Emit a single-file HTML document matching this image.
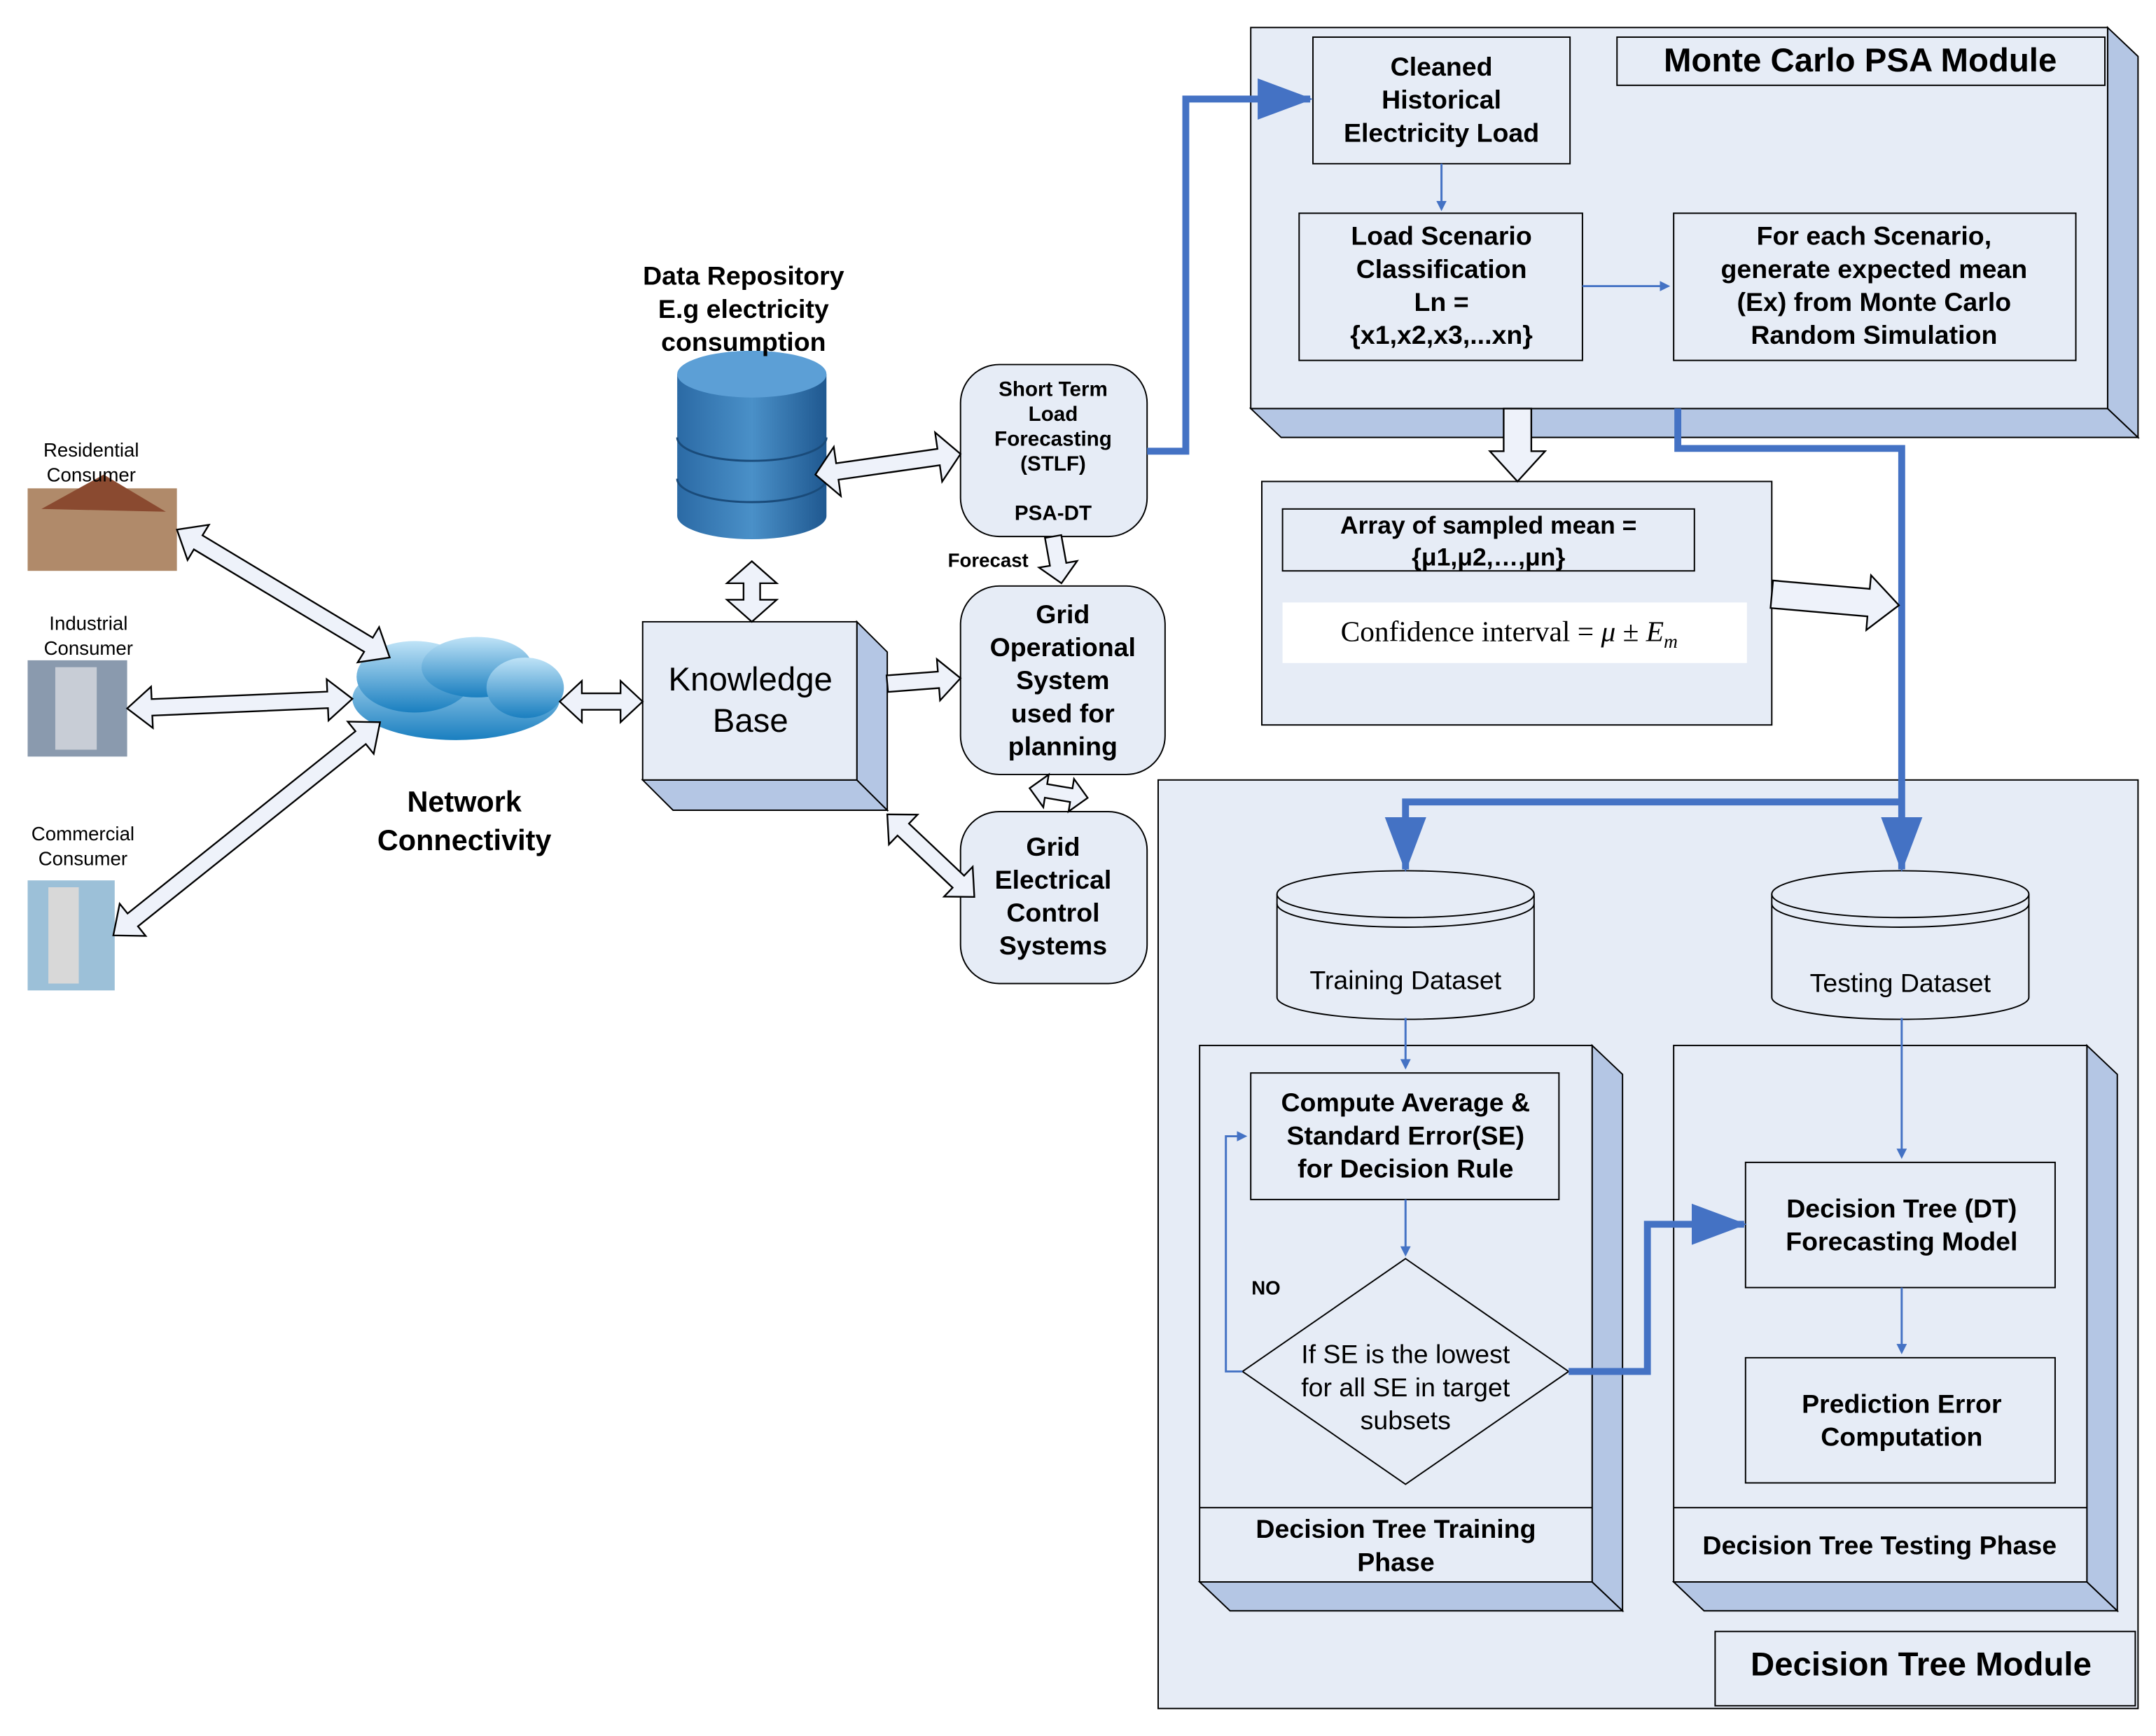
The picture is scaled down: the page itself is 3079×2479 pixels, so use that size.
<!DOCTYPE html>
<html><head><meta charset="utf-8">
<style>
html,body{margin:0;padding:0;background:#fff;}
svg{display:block;}
</style></head>
<body>
<svg id="s" width="3079" height="2479" viewBox="0 0 1560 1262" preserveAspectRatio="none" xmlns="http://www.w3.org/2000/svg" font-family="Liberation Sans, sans-serif">
<defs>
<marker id="ab" markerWidth="40" markerHeight="30" refX="38" refY="15" orient="auto" markerUnits="userSpaceOnUse"><path d="M0,0 L40,15 L0,30 z" fill="#4472c4"/></marker>
<marker id="at" markerWidth="5" markerHeight="5" refX="4" refY="2.5" orient="auto" markerUnits="strokeWidth"><path d="M0,0 L5,2.5 L0,5 z" fill="#4472c4"/></marker>
<linearGradient id="cl" x1="0" y1="0" x2="0" y2="1"><stop offset="0" stop-color="#bfe3f7"/><stop offset="1" stop-color="#1a7fc0"/></linearGradient>
<linearGradient id="db" x1="0" y1="0" x2="1" y2="0"><stop offset="0" stop-color="#2b6aa5"/><stop offset=".5" stop-color="#4a90c8"/><stop offset="1" stop-color="#1f5890"/></linearGradient>
</defs>
<g fill="none" stroke="#000" stroke-width="1">
<polygon points="905,297 1525,297 1547,318 927,318" fill="#b4c6e4"/>
<polygon points="1525,20 1547,41 1547,318 1525,297" fill="#b4c6e4"/>
<rect x="905" y="20" width="620" height="277" fill="#e6ecf6"/>
<rect x="1170" y="27" width="353" height="35" fill="#e6ecf6"/>
<rect x="950" y="27" width="186" height="92" fill="#e6ecf6"/>
<rect x="940" y="155" width="205" height="107" fill="#e6ecf6"/>
<rect x="1211" y="155" width="291" height="107" fill="#e6ecf6"/>
<rect x="913" y="350" width="369" height="177" fill="#e6ecf6"/>
<rect x="928" y="370" width="298" height="45" fill="#e6ecf6"/>
<rect x="928" y="438" width="336" height="44" fill="#fff" stroke="none"/>
<rect x="838" y="567" width="709" height="675" fill="#e6ecf6"/>
<rect x="1241" y="1186" width="304" height="54" fill="#e6ecf6"/>
<polygon points="868,1150 1152,1150 1174,1171 890,1171" fill="#b4c6e4"/>
<polygon points="1152,760 1174,781 1174,1171 1152,1150" fill="#b4c6e4"/>
<rect x="868" y="760" width="284" height="390" fill="#e6ecf6"/>
<line x1="868" y1="1096" x2="1152" y2="1096"/>
<polygon points="1211,1150 1510,1150 1532,1171 1233,1171" fill="#b4c6e4"/>
<polygon points="1510,760 1532,781 1532,1171 1510,1150" fill="#b4c6e4"/>
<rect x="1211" y="760" width="299" height="390" fill="#e6ecf6"/>
<line x1="1211" y1="1096" x2="1510" y2="1096"/>
<rect x="905" y="780" width="223" height="92" fill="#e6ecf6"/>
<polygon points="1017,915 1135,997 1017,1079 899,997" fill="#e6ecf6"/>
<rect x="1263" y="845" width="224" height="91" fill="#e6ecf6"/>
<rect x="1263" y="987" width="224" height="91" fill="#e6ecf6"/>
<path d="M924,650 L924,725 A93,16 0 0 0 1110,725 L1110,650" fill="#e6ecf6"/>
<ellipse cx="1017" cy="650" rx="93" ry="17" fill="#e6ecf6"/>
<path d="M924,657 A93,17 0 0 0 1110,657"/>
<path d="M1282,650 L1282,725 A93,16 0 0 0 1468,725 L1468,650" fill="#e6ecf6"/>
<ellipse cx="1375" cy="650" rx="93" ry="17" fill="#e6ecf6"/>
<path d="M1282,657 A93,17 0 0 0 1468,657"/>
<polygon points="465,567 620,567 642,589 487,589" fill="#b4c6e4"/>
<polygon points="620,452 642,474 642,589 620,567" fill="#b4c6e4"/>
<rect x="465" y="452" width="155" height="115" fill="#e6ecf6"/>
<rect x="695" y="265" width="135" height="125" rx="28" fill="#e6ecf6"/>
<rect x="695" y="426" width="148" height="137" rx="28" fill="#e6ecf6"/>
<rect x="695" y="590" width="135" height="125" rx="28" fill="#e6ecf6"/>
</g>
<path d="M490,272 L490,375 A54,17 0 0 0 598,375 L598,272 z" fill="url(#db)"/>
<ellipse cx="544" cy="272" rx="54" ry="17" fill="#5c9fd6"/>
<path d="M490,318 A54,17 0 0 0 598,318 M490,348 A54,17 0 0 0 598,348" stroke="#1a4b7a" fill="none" stroke-width="1.5"/>
<g fill="url(#cl)">
<ellipse cx="330" cy="508" rx="75" ry="30"/>
<ellipse cx="300" cy="492" rx="42" ry="26"/>
<ellipse cx="345" cy="485" rx="40" ry="22"/>
<ellipse cx="380" cy="500" rx="28" ry="22"/>
</g>
<rect x="20" y="355" width="108" height="60" fill="#b08a6a"/><polygon points="30,370 75,345 120,372" fill="#8a4a30"/>
<rect x="20" y="480" width="72" height="70" fill="#8a9aae"/><rect x="40" y="485" width="30" height="60" fill="#c8cdd6"/>
<rect x="20" y="640" width="63" height="80" fill="#9cc0d8"/><rect x="35" y="645" width="22" height="70" fill="#d8d8d8"/>
<g fill="none" stroke="#4472c4">
<polyline points="830,328 858,328 858,72 948,72" stroke-width="5" marker-end="url(#ab)"/>
<polyline points="1214,297 1214,326 1376,326 1376,632" stroke-width="5" marker-end="url(#ab)"/>
<polyline points="1376,583 1017,583 1017,632" stroke-width="5" marker-end="url(#ab)"/>
<polyline points="1135,997 1192,997 1192,890 1262,890" stroke-width="5" marker-end="url(#ab)"/>
<line x1="1043" y1="119" x2="1043" y2="152" stroke-width="1.5" marker-end="url(#at)"/>
<line x1="1145" y1="208" x2="1207" y2="208" stroke-width="1.5" marker-end="url(#at)"/>
<line x1="1017" y1="740" x2="1017" y2="776" stroke-width="1.5" marker-end="url(#at)"/>
<line x1="1017" y1="872" x2="1017" y2="912" stroke-width="1.5" marker-end="url(#at)"/>
<line x1="1376" y1="740" x2="1376" y2="841" stroke-width="1.5" marker-end="url(#at)"/>
<line x1="1376" y1="936" x2="1376" y2="983" stroke-width="1.5" marker-end="url(#at)"/>
<polyline points="899,997 887,997 887,826 901,826" stroke-width="1.5" marker-end="url(#at)"/>
</g>
<g id="arr" fill="#eef2fa" stroke="#000" stroke-width="1.2"></g>
<g font-weight="bold" font-size="19" text-anchor="middle" fill="#000">
<text x="1346" y="52" font-size="24">Monte Carlo PSA Module</text>
<text x="1043" y="55">Cleaned</text><text x="1043" y="79">Historical</text><text x="1043" y="103">Electricity Load</text>
<text x="1043" y="178">Load Scenario</text><text x="1043" y="202">Classification</text><text x="1043" y="226">Ln =</text><text x="1043" y="250">{x1,x2,x3,...xn}</text>
<text x="1356" y="178">For each Scenario,</text><text x="1356" y="202">generate expected mean</text><text x="1356" y="226">(Ex) from Monte Carlo</text><text x="1356" y="250">Random Simulation</text>
<text x="1077" y="388" font-size="18">Array of sampled mean =</text><text x="1077" y="411" font-size="18">{μ1,μ2,…,μn}</text>
<text x="1390" y="1218" font-size="24">Decision Tree Module</text>
<text x="1017" y="808">Compute Average &amp;</text><text x="1017" y="832">Standard Error(SE)</text><text x="1017" y="856">for Decision Rule</text>
<text x="1376" y="885">Decision Tree (DT)</text><text x="1376" y="909">Forecasting Model</text>
<text x="1376" y="1027">Prediction Error</text><text x="1376" y="1051">Computation</text>
<text x="1010" y="1118">Decision Tree Training</text><text x="1010" y="1142">Phase</text>
<text x="1360" y="1130">Decision Tree Testing Phase</text>
<text x="538" y="207">Data Repository</text><text x="538" y="231">E.g electricity</text><text x="538" y="255">consumption</text>
<text x="336" y="590" font-size="21">Network</text><text x="336" y="618" font-size="21">Connectivity</text>
<text x="769" y="453">Grid</text><text x="769" y="477">Operational</text><text x="769" y="501">System</text><text x="769" y="525">used for</text><text x="769" y="549">planning</text>
<text x="762" y="622">Grid</text><text x="762" y="646">Electrical</text><text x="762" y="670">Control</text><text x="762" y="694">Systems</text>
<text x="762" y="288" font-size="15">Short Term</text><text x="762" y="306" font-size="15">Load</text><text x="762" y="324" font-size="15">Forecasting</text><text x="762" y="342" font-size="15">(STLF)</text><text x="762" y="378" font-size="15">PSA-DT</text>
<text x="715" y="412" font-size="14">Forecast</text>
<text x="916" y="941" font-size="14">NO</text>
</g>
<g font-size="19" text-anchor="middle" fill="#000">
<text x="1017" y="719">Training Dataset</text>
<text x="1375" y="721">Testing Dataset</text>
<text x="1017" y="991">If SE is the lowest</text><text x="1017" y="1015">for all SE in target</text><text x="1017" y="1039">subsets</text>
<text x="543" y="502" font-size="24">Knowledge</text><text x="543" y="532" font-size="24">Base</text>
<text x="66" y="332" font-size="14">Residential</text><text x="66" y="350" font-size="14">Consumer</text>
<text x="64" y="458" font-size="14">Industrial</text><text x="64" y="476" font-size="14">Consumer</text>
<text x="60" y="611" font-size="14">Commercial</text><text x="60" y="629" font-size="14">Consumer</text>
<text x="1092" y="466" font-family="Liberation Serif, serif" font-size="21">Confidence interval = <tspan font-style="italic">μ</tspan> ± <tspan font-style="italic">E</tspan><tspan font-style="italic" font-size="14" dy="5">m</tspan></text>
</g>
</svg>
<script>
(function(){
var g=document.getElementById('arr');
function arrow(x1,y1,x2,y2,dbl,w,hw,hl){
 w=w||9;hw=hw||22;hl=hl||16;
 var dx=x2-x1,dy=y2-y1,L=Math.hypot(dx,dy),ux=dx/L,uy=dy/L,px=-uy,py=ux;
 function P(t,o){return (x1+ux*t+px*o).toFixed(1)+','+(y1+uy*t+py*o).toFixed(1);}
 var pts=[];
 if(dbl){pts.push(P(0,0),P(hl,hw/2),P(hl,w/2));}else{pts.push(P(0,w/2));}
 pts.push(P(L-hl,w/2),P(L-hl,hw/2),P(L,0),P(L-hl,-hw/2),P(L-hl,-w/2));
 if(dbl){pts.push(P(hl,-w/2),P(hl,-hw/2));}else{pts.push(P(0,-w/2));}
 var p=document.createElementNS('http://www.w3.org/2000/svg','polygon');
 p.setAttribute('points',pts.join(' '));g.appendChild(p);
}
arrow(1098,297,1098,350,false,20,40,22);
arrow(1282,432,1374,440,false,20,40,22);
arrow(590,345,695,330,true,12,36,16);
arrow(544,408,544,452,true,12,36,16);
arrow(405,510,465,510,true,12,30,16);
arrow(642,497,695,493,false,12,30,16);
arrow(762,390,768,424,false,12,28,14);
arrow(745,573,787,580,true,10,24,12);
arrow(642,592,705,652,true,12,30,16);
arrow(128,385,282,478,true,12,30,18);
arrow(92,515,255,508,true,12,30,18);
arrow(82,680,275,525,true,12,30,18);
})();
</script>
</body></html>
